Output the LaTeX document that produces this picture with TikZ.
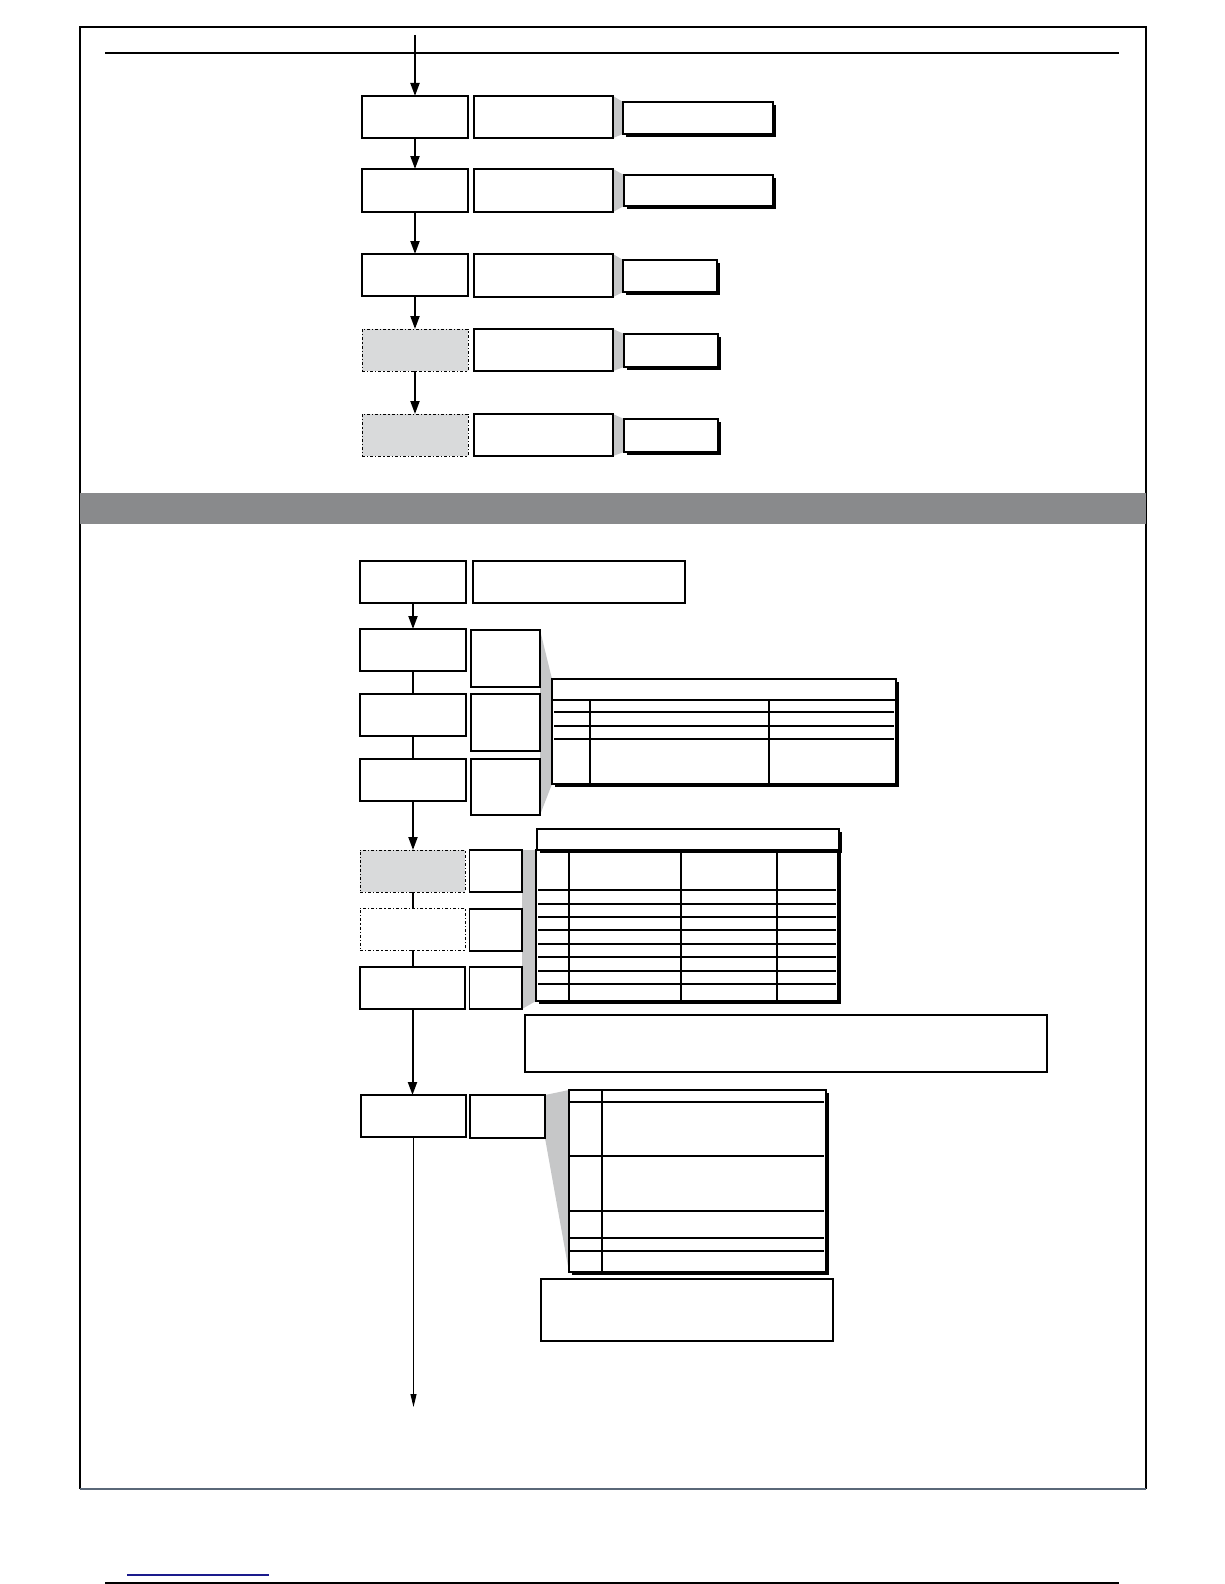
\documentclass[tikz,border=0pt]{standalone}
\usetikzlibrary{arrows.meta,shadows,backgrounds}
\definecolor{wedgegray}{HTML}{C6C7C8}
\definecolor{dashgray}{HTML}{D9DADB}
\definecolor{bandgray}{HTML}{898A8C}
\definecolor{framegray}{HTML}{5A6878}
\definecolor{linkblue}{HTML}{1A1A8C}
\tikzset{
  box/.style={draw=black, line width=1.2pt, fill=white, inner sep=0pt, outer sep=0pt, anchor=north west},
  dbox/.style={box, dash dot, line width=0.9pt},
  gbox/.style={dbox, fill=dashgray},
  shbox/.style={box, general shadow={fill=black, shadow xshift=3pt, shadow yshift=-3pt}},
  arr/.style={line width=2pt, -{Triangle[width=9pt,length=13pt]}},
  thinarr/.style={line width=1.1pt, -{Triangle[width=6pt,length=13pt]}},
  link/.style={line width=2pt},
  wedge/.style={fill=wedgegray},
  tline/.style={line width=1.1pt},
  frame/.style={line width=1.8pt}
}
\newcommand\bx[6][]{\node[box,#1,minimum width={(#5-#3)*1pt},minimum height={(#6-#4)*1pt}] (#2) at (#3,#4) {};}
\begin{document}
\begin{tikzpicture}[x=1pt,y=-1pt]
\useasboundingbox (0,0) rectangle (1224,1584);
% frame
\draw[frame] (80,1489) -- (80,27) -- (1146,27) -- (1146,1489);
\draw[line width=1.5pt, framegray] (80,1489) -- (1146,1489);
\draw[line width=1.4pt] (105,53) -- (1119,53);
\fill[bandgray] (80,493) rectangle (1146,524);
\draw[line width=1.3pt, linkblue] (127,1575) -- (269,1575);
\draw[line width=1.4pt] (105,1583) -- (1119,1583);

% top section
\bx{a1}{362}{96}{468}{138}
\bx{m1}{474}{96}{613}{138}
\bx[shbox]{r1}{623}{102}{773}{134}
\bx{a2}{362}{169}{468}{212}
\bx{m2}{474}{169}{613}{212}
\bx[shbox]{r2}{624}{175}{773}{206}
\bx{a3}{362}{254}{468}{296}
\bx{m3}{474}{254}{613}{297}
\bx[shbox]{r3}{623}{260}{717}{292}
\bx[gbox]{a4}{362}{329}{468}{371}
\bx{m4}{474}{329}{613}{371}
\bx[shbox]{r4}{624}{334}{718}{367}
\bx[gbox]{a5}{362}{414}{468}{456}
\bx{m5}{474}{414}{613}{456}
\bx[shbox]{r5}{624}{419}{718}{452}
\begin{scope}[on background layer]
\foreach \i in {1,...,5}{
  \fill[wedge] (m\i.north east) -- (r\i.north west) -- (r\i.south west) -- (m\i.south east) -- cycle;
}
\end{scope}
\coordinate (start) at (415,35);
\draw[arr] (start) -- (a1.north);
\draw[arr] (a1.south) -- (a2.north);
\draw[arr] (a2.south) -- (a3.north);
\draw[arr] (a3.south) -- (a4.north);
\draw[arr] (a4.south) -- (a5.north);

% lower section
\bx{b1}{360}{561}{466}{603}
\bx{w1}{473}{561}{685}{603}
\bx{b2}{360}{629}{466}{671}
\bx{s2}{471}{630}{540}{687}
\bx{b3}{360}{694}{466}{736}
\bx{s3}{471}{694}{540}{751}
\bx{b4}{360}{759}{466}{801}
\bx{s4}{471}{759}{540}{815}
\bx[gbox]{b5}{360}{850}{465}{892}
\bx{s5}{469.5}{850}{522}{892}
\bx[dbox]{b6}{360}{908}{465}{950}
\bx{s6}{469.5}{909}{522}{951}
\bx{b7}{360}{967}{465}{1009}
\bx{s7}{469.5}{967}{522}{1009}
\bx{b8}{361}{1095}{466}{1137}
\bx{s8}{470}{1095}{545}{1138}

% table 1
\bx[shbox]{t1}{552}{679}{896}{784}
\draw[line width=2pt] (552,699.5) -- (896,699.5);
\foreach \y in {712,726,739} \draw[tline] (554,\y) -- (894,\y);
\foreach \x in {590,769} \draw[tline] (\x,700) -- (\x,784);

% table 2
\bx[shbox]{t2b}{536}{850}{838}{1001}
\bx[shbox]{t2h}{537}{829}{839}{850}
\foreach \x in {569,681,777} \draw[tline] (\x,850) -- (\x,1001);
\foreach \y in {890,904,917,930,944,957,971,984} \draw[tline] (538,\y) -- (836,\y);

% table 3
\bx[shbox]{t3}{569}{1090}{826}{1272}
\draw[tline] (602,1090) -- (602,1272);
\foreach \y in {1102,1156,1211,1238,1251} \draw[tline] (570,\y) -- (824,\y);

% notes
\bx{n1}{525}{1015}{1047}{1072}
\bx{n2}{541}{1279}{833}{1341}

\begin{scope}[on background layer]
\fill[wedge] (s2.north east) -- (t1.north west) -- (t1.south west) -- (s4.south east) -- cycle;
\fill[wedge] (s5.north east) -- (t2b.north west) -- (t2b.south west) -- (s7.south east) -- cycle;
\fill[wedge] (s8.north east) -- (t3.north west) -- (t3.south west) -- (s8.south east) -- cycle;
\end{scope}

\draw[arr] (b1.south) -- (b2.north);
\draw[link] (b2.south) -- (b3.north);
\draw[link] (b3.south) -- (b4.north);
\draw[arr] (b4.south) -- (b4.south |- b5.north);
\draw[link] (b5.south) -- (b6.north);
\draw[link] (b6.south) -- (b7.north);
\draw[arr] (b7.south) -- (b7.south |- b8.north);
\coordinate (endpt) at (413.5,1407);
\draw[thinarr] (b8.south) -- (endpt);
\end{tikzpicture}
\end{document}
